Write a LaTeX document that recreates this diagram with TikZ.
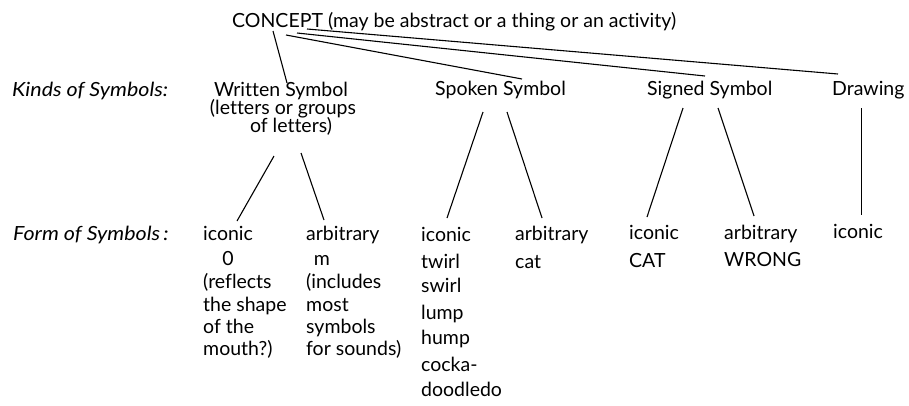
\documentclass[tikz,border=0pt]{standalone}
\usepackage{fontspec}
\setmainfont{Lato}[Ligatures=NoCommon]
\usetikzlibrary{calc}
\tikzset{
  txt/.style={inner sep=0pt, anchor=base west, font=\fontsize{19.5}{22}\selectfont},
  ctxt/.style={txt, anchor=base},
  lbl/.style={txt, font=\fontsize{19.5}{22}\selectfont\itshape\addfontfeature{FakeStretch=1.1}},
  conn/.style={line width=1.1pt, black}
}
\begin{document}
\begin{tikzpicture}[x=1pt,y=-1pt]
\useasboundingbox (0,0) rectangle (909,405);
\fill[white] (0,0) rectangle (909,405);
% top
\node[txt] (concept) at (232,27) {CONCEPT (may be abstract or a thing or an activity)};
% kinds
\node[lbl] (kinds) at (12,96) {Kinds of Symbols:};
\node[ctxt] (written) at (281,96) {Written Symbol};
\node[ctxt] (written2) at (283,114) {(letters or groups};
\node[ctxt] (written3) at (291,132) {of letters)};
\node[txt] (spoken) at (435,95) {Spoken Symbol};
\node[txt] (signed) at (647,95) {Signed Symbol};
\node[txt] (drawing) at (832,95) {Drawing};
% forms
\node[lbl] (form) at (13,240) {Form of Symbols\,:};
\node[txt] (wi) at (203,240) {iconic};
\node[ctxt] (wi1) at (228,265) {0};
\node[txt] (wi2) at (203,288) {(reflects};
\node[txt] (wi3) at (203,311) {the shape};
\node[txt] (wi4) at (203,333) {of the};
\node[txt] (wi5) at (203,355) {mouth?)};
\node[txt] (wa) at (306,240) {arbitrary};
\node[ctxt] (wa1) at (322,265) {m};
\node[txt] (wa2) at (306,288) {(includes};
\node[txt] (wa3) at (306,311) {most};
\node[txt] (wa4) at (306,333) {symbols};
\node[txt] (wa5) at (306,355) {for sounds)};
\node[txt] (si) at (421,241) {iconic};
\node[txt] (si1) at (421,268) {twirl};
\node[txt] (si2) at (421,292) {swirl};
\node[txt] (si3) at (421,319) {lump};
\node[txt] (si4) at (421,344) {hump};
\node[txt] (si5) at (421,371) {cocka-};
\node[txt] (si6) at (421,396) {doodledo};
\node[txt] (sa) at (515,240) {arbitrary};
\node[txt] (sa1) at (515,268) {cat};
\node[txt] (gi) at (629,239) {iconic};
\node[txt] (gi1) at (629,267) {CAT};
\node[txt] (ga) at (724,239) {arbitrary};
\node[txt] (ga1) at (724,266) {WRONG};
\node[txt] (di) at (833,238) {iconic};
% connectors from concept
\draw[conn] ($(concept.base west)+(41,4)$) -- ($(written.base)+(6,-13)$);
\draw[conn] ($(concept.base west)+(54,8)$) -- ($(spoken.base west)+(87,-16)$);
\draw[conn] ($(concept.base west)+(65,6)$) -- ($(signed.base west)+(58,-19)$);
\draw[conn] ($(concept.base west)+(75,2)$) -- ($(drawing.base west)+(6,-21)$);
% connectors to forms
\draw[conn] ($(written3.base)+(-17,24)$) -- ($(wi.base west)+(34,-19)$);
\draw[conn] ($(written3.base)+(10,21)$) -- ($(wa.base west)+(18,-20)$);
\draw[conn] ($(spoken.base west)+(48,17)$) -- ($(si.base west)+(26,-23)$);
\draw[conn] ($(spoken.base west)+(72,17)$) -- ($(sa.base west)+(27,-22)$);
\draw[conn] ($(signed.base west)+(36,13)$) -- ($(gi.base west)+(18,-22)$);
\draw[conn] ($(signed.base west)+(71,13)$) -- ($(ga.base west)+(30,-23)$);
\draw[conn] ($(drawing.base west)+(29.5,13)$) -- ($(di.base west)+(28.5,-23)$);
\end{tikzpicture}
\end{document}
